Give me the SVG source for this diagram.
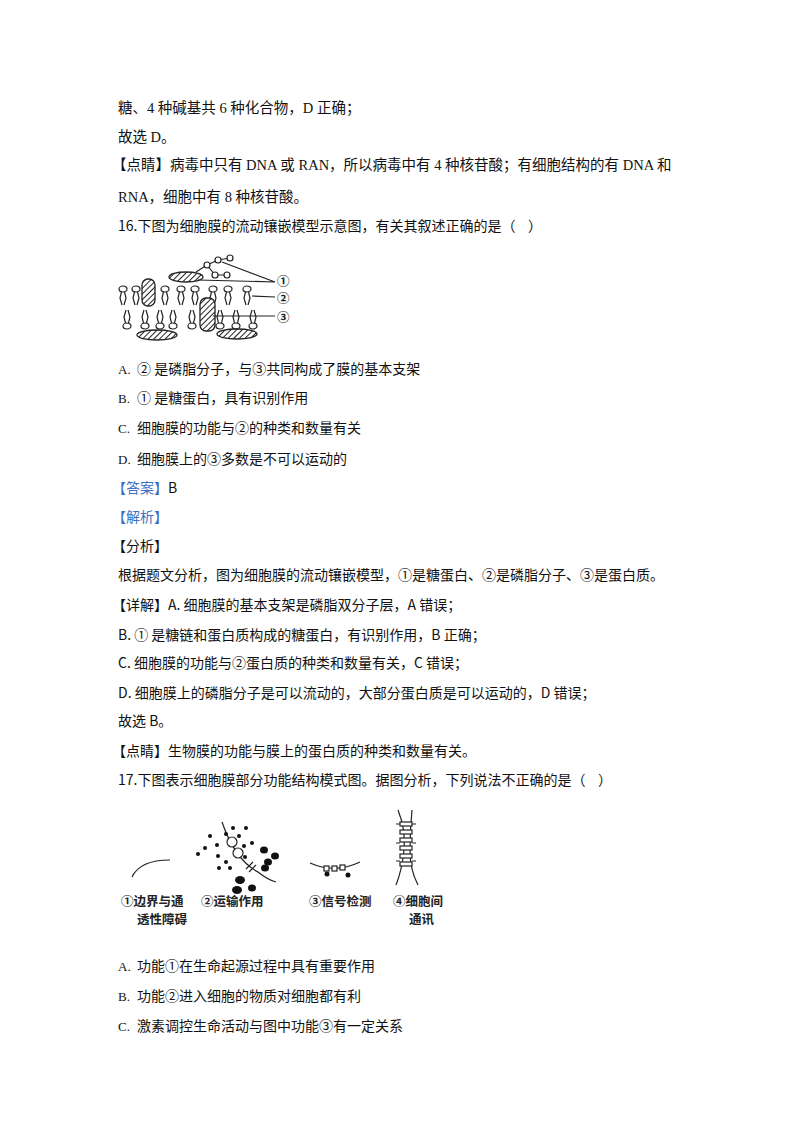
<svg xmlns="http://www.w3.org/2000/svg" width="800" height="1132" viewBox="0 0 800 1132">
<defs>
<style>
.t{font-family:"Liberation Serif","Noto Sans CJK SC",serif;font-size:14.5px;fill:#111}
.s{font-family:"Noto Sans CJK SC",sans-serif;font-size:14px;fill:#111}
.blue{fill:#3a6fc4}
.f{font-family:"Noto Sans CJK SC",sans-serif;font-size:12.5px;fill:#222;font-weight:bold}
.ln{stroke:#222;stroke-width:1.2;fill:none}
.hd{fill:#fff;stroke:#222;stroke-width:1.2}
.hp{fill:url(#hatch);stroke:#222;stroke-width:1.3}
</style>
<pattern id="hatch" width="4" height="4" patternUnits="userSpaceOnUse" patternTransform="rotate(45)">
<rect width="4" height="4" fill="#fff"/><line x1="0" y1="0" x2="0" y2="4" stroke="#222" stroke-width="2"/>
</pattern>
<g id="up"><ellipse cx="0" cy="0" rx="4" ry="3" class="hd"/><path d="M-1.5,3 L-3,9 L-1,16 M1.5,3 L3,9 L1,16" class="ln"/></g>
<g id="dn"><ellipse cx="0" cy="0" rx="4" ry="3" class="hd"/><path d="M-1.5,-3 L-3,-9 L-1,-16 M1.5,-3 L3,-9 L1,-16" class="ln"/></g>
</defs>
<rect width="800" height="1132" fill="#fff"/>
<g id="text">
<text class="t" x="118" y="113">糖、4 种碱基共 6 种化合物，D 正确；</text>
<text class="t" x="118" y="142">故选 D。</text>
<text class="t" x="112" y="170">【点睛】病毒中只有 DNA 或 RAN，所以病毒中有 4 种核苷酸；有细胞结构的有 DNA 和</text>
<text class="t" x="118" y="202">RNA，细胞中有 8 种核苷酸。</text>
<text class="s" x="118" y="231" xml:space="preserve">16.下图为细胞膜的流动镶嵌模型示意图，有关其叙述正确的是（    ）</text>
<text class="s" x="118" y="374"><tspan font-family="Liberation Serif" font-size="13">A.</tspan><tspan x="137">② 是磷脂分子，与③共同构成了膜的基本支架</tspan></text>
<text class="s" x="118" y="403"><tspan font-family="Liberation Serif" font-size="13">B.</tspan><tspan x="137">① 是糖蛋白，具有识别作用</tspan></text>
<text class="s" x="118" y="433"><tspan font-family="Liberation Serif" font-size="13">C.</tspan><tspan x="137">细胞膜的功能与②的种类和数量有关</tspan></text>
<text class="s" x="118" y="464"><tspan font-family="Liberation Serif" font-size="13">D.</tspan><tspan x="137">细胞膜上的③多数是不可以运动的</tspan></text>
<text class="s" x="112" y="493"><tspan class="blue">【答案】</tspan>B</text>
<text class="s blue" x="112" y="522">【解析】</text>
<text class="s" x="112" y="551">【分析】</text>
<text class="s" x="118" y="580">根据题文分析，图为细胞膜的流动镶嵌模型，①是糖蛋白、②是磷脂分子、③是蛋白质。</text>
<text class="s" x="112" y="610">【详解】A. 细胞膜的基本支架是磷脂双分子层，A 错误；</text>
<text class="s" x="118" y="640">B. ① 是糖链和蛋白质构成的糖蛋白，有识别作用，B 正确；</text>
<text class="s" x="118" y="668">C. 细胞膜的功能与②蛋白质的种类和数量有关，C 错误；</text>
<text class="s" x="118" y="698">D. 细胞膜上的磷脂分子是可以流动的，大部分蛋白质是可以运动的，D 错误；</text>
<text class="s" x="118" y="726">故选 B。</text>
<text class="s" x="112" y="756">【点睛】生物膜的功能与膜上的蛋白质的种类和数量有关。</text>
<text class="s" x="118" y="785" xml:space="preserve">17.下图表示细胞膜部分功能结构模式图。据图分析，下列说法不正确的是（    ）</text>
<text class="s" x="118" y="971"><tspan font-family="Liberation Serif" font-size="13">A.</tspan><tspan x="137">功能①在生命起源过程中具有重要作用</tspan></text>
<text class="s" x="118" y="1001"><tspan font-family="Liberation Serif" font-size="13">B.</tspan><tspan x="137">功能②进入细胞的物质对细胞都有利</tspan></text>
<text class="s" x="118" y="1031"><tspan font-family="Liberation Serif" font-size="13">C.</tspan><tspan x="137">激素调控生命活动与图中功能③有一定关系</tspan></text>
</g>
<g id="fig16">
<use href="#up" x="123" y="289"/><use href="#up" x="136" y="289"/><use href="#up" x="165" y="289"/><use href="#up" x="181" y="289"/><use href="#up" x="195" y="289"/><use href="#up" x="213" y="289"/><use href="#up" x="228" y="289"/><use href="#up" x="247" y="289"/>
<use href="#dn" x="127" y="326"/><use href="#dn" x="145" y="326"/><use href="#dn" x="160" y="326"/><use href="#dn" x="173" y="326"/><use href="#dn" x="192" y="326"/><use href="#dn" x="220" y="326"/><use href="#dn" x="236" y="326"/><use href="#dn" x="253" y="326"/>
<rect x="142" y="279" width="13" height="27" rx="6" class="hp"/>
<rect x="200" y="298" width="15" height="33" rx="6" class="hp"/>
<ellipse cx="157" cy="335" rx="20" ry="5" class="hp"/>
<ellipse cx="237" cy="334" rx="20" ry="5" class="hp"/>
<ellipse cx="186" cy="277" rx="17" ry="5" class="hp"/>
<path d="M196,272 L207,265 L218,260 L230,258 M207,265 L215,275 L227,275" class="ln"/>
<circle cx="207" cy="265" r="3" class="hd"/><circle cx="218" cy="260" r="3" class="hd"/><circle cx="230" cy="258" r="3" class="hd"/><circle cx="215" cy="275" r="3" class="hd"/><circle cx="227" cy="275" r="3" class="hd"/>
<path d="M222,262 L275,282 M198,280 L275,282 M252,296 L275,297 M213,316 L275,316" class="ln"/>
<text class="f" x="277" y="286" font-size="14">①</text><text class="f" x="277" y="303" font-size="14">②</text><text class="f" x="277" y="322" font-size="14">③</text>
</g>
<g id="fig17">
<path d="M132,877 Q140,860 170,860" class="ln"/>
<path d="M222,822 Q235,860 258,872 Q268,880 276,882" class="ln"/>
<circle cx="232" cy="842" r="5" class="hd"/><circle cx="238" cy="853" r="5" class="hd"/>
<path d="M246,869 L253,862 M249,872 L256,865" class="ln"/>
<g fill="#111">
<circle cx="198" cy="854" r="2"/><circle cx="210" cy="836" r="2"/><circle cx="217" cy="845" r="2"/><circle cx="205" cy="848" r="2"/><circle cx="218" cy="856" r="2"/><circle cx="226" cy="834" r="2"/><circle cx="233" cy="828" r="2"/><circle cx="239" cy="836" r="2"/><circle cx="244" cy="846" r="2"/><circle cx="226" cy="862" r="2"/><circle cx="219" cy="868" r="2"/><circle cx="230" cy="868" r="2"/><circle cx="245" cy="857" r="2"/><circle cx="252" cy="843" r="2"/><circle cx="246" cy="828" r="2"/>
<ellipse cx="264" cy="850" rx="4" ry="3.5"/><ellipse cx="275" cy="856" rx="4" ry="3.5"/><ellipse cx="268" cy="862" rx="4" ry="3.5"/><ellipse cx="265" cy="868" rx="4" ry="3.5"/><ellipse cx="240" cy="880" rx="5" ry="4"/><ellipse cx="252" cy="888" rx="4" ry="3.5"/><ellipse cx="237" cy="890" rx="5" ry="4"/>
</g>
<path d="M310,863 Q335,874 360,862" class="ln"/>
<rect x="324" y="866" width="5" height="5" class="hd"/><rect x="332" y="866" width="5" height="5" class="hd"/><rect x="340" y="865" width="5" height="5" class="hd"/>
<circle cx="327" cy="874" r="2.5" fill="#111"/><circle cx="348" cy="875" r="2.5" fill="#111"/>
<path d="M398,810 Q406,830 404,850 Q402,870 396,885 M412,810 Q410,830 410,850 Q410,870 418,885" class="ln"/>
<g class="hd"><rect x="400" y="822" width="12" height="4"/><rect x="400" y="830" width="12" height="4"/><rect x="400" y="838" width="12" height="4"/><rect x="400" y="846" width="12" height="4"/><rect x="400" y="854" width="12" height="4"/><rect x="400" y="862" width="12" height="4"/></g>
<path d="M396,824 L400,824 M412,824 L416,824 M396,843 L400,843 M412,843 L416,843 M396,861 L400,861 M412,861 L416,861" class="ln"/>
<text class="f" x="121" y="906">①边界与通</text><text class="f" x="137" y="924">透性障碍</text>
<text class="f" x="201" y="906">②运输作用</text>
<text class="f" x="309" y="906">③信号检测</text>
<text class="f" x="393" y="906">④细胞间</text><text class="f" x="409" y="924">通讯</text>
</g>
</svg>
